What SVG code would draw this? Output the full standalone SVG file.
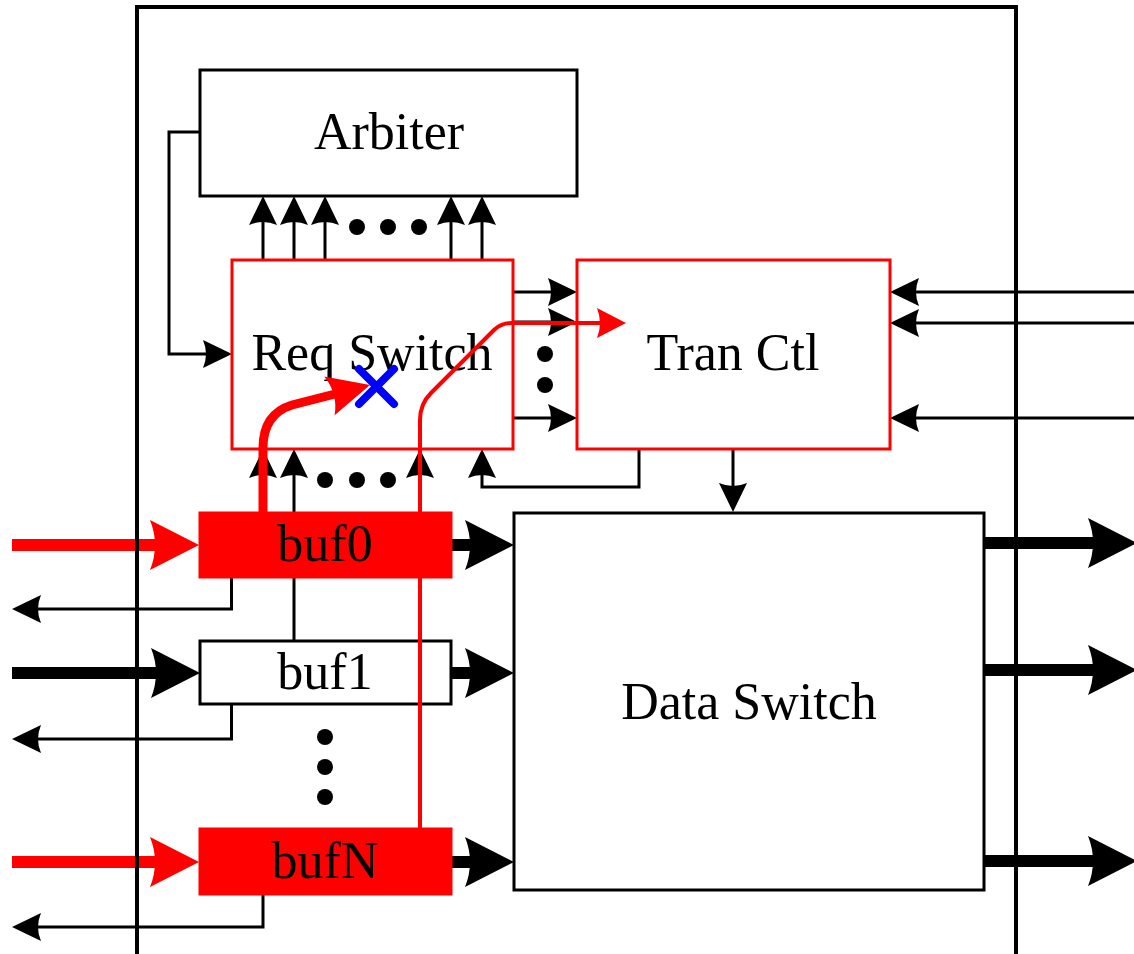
<svg xmlns="http://www.w3.org/2000/svg" width="1134" height="954" viewBox="0 0 1134 954">
<style>
.box{fill:#fff;stroke:#000;stroke-width:3}
.rbox{fill:#fff;stroke:#f00;stroke-width:3}
.rfill{fill:#f00;stroke:#f00;stroke-width:1}
.ln{fill:none;stroke:#000;stroke-width:3}
.thk{fill:none;stroke:#000;stroke-width:12}
.rthk{fill:none;stroke:#f00;stroke-width:12}
.lbl{font-family:"Liberation Serif","Times New Roman",serif;font-size:52px;text-anchor:middle;fill:#000}
.dot{fill:#000}
</style>
<defs>
<path id="a" d="M0,0 L-29,-14 Q-23,0 -29,14 Z"/>
<path id="A" d="M0,0 L-49,-25 Q-39,0 -49,25 Z"/>
<path id="R" d="M0,0 L-42,-20 Q-33,0 -42,20 Z"/>
</defs>

<g id="connectors">
  <!-- Arbiter feedback to Req Switch -->
  <path class="ln" d="M200,132 H169 V354 H206"/>
  <use href="#a" transform="translate(232,354)"/>
  <!-- Req Switch to Arbiter -->
  <path class="ln" d="M263,260 V220 M294,260 V220 M325,260 V220 M451,260 V220 M482,260 V220"/>
  <use href="#a" transform="translate(263,196) rotate(-90)"/>
  <use href="#a" transform="translate(294,196) rotate(-90)"/>
  <use href="#a" transform="translate(325,196) rotate(-90)"/>
  <use href="#a" transform="translate(451,196) rotate(-90)"/>
  <use href="#a" transform="translate(482,196) rotate(-90)"/>
  <!-- Req Switch to Tran Ctl -->
  <path class="ln" d="M513,292 H552 M513,322 H552 M513,418 H552"/>
  <use href="#a" transform="translate(577,292)"/>
  <use href="#a" transform="translate(577,322)"/>
  <use href="#a" transform="translate(577,418)"/>
  <!-- External into Tran Ctl -->
  <path class="ln" d="M1134,292 H915 M1134,323 H915 M1134,418 H915"/>
  <use href="#a" transform="translate(890,292) rotate(180)"/>
  <use href="#a" transform="translate(890,323) rotate(180)"/>
  <use href="#a" transform="translate(890,418) rotate(180)"/>
  <!-- Tran Ctl feedback to Req Switch -->
  <path class="ln" d="M639,449 V487 H482 V474"/>
  <use href="#a" transform="translate(482,449) rotate(-90)"/>
  <!-- Tran Ctl to Data Switch -->
  <path class="ln" d="M733,449 V488"/>
  <use href="#a" transform="translate(733,512) rotate(90)"/>
  <!-- bufs up to Req Switch -->
  <use href="#a" transform="translate(263,449) rotate(-90)"/>
  <path class="ln" d="M294,641 V474"/>
  <use href="#a" transform="translate(294,449) rotate(-90)"/>
  <use href="#a" transform="translate(420,449) rotate(-90)"/>
  <!-- credit returns -->
  <path class="ln" d="M231.5,578 V609 H36"/>
  <use href="#a" transform="translate(12,609) rotate(180)"/>
  <path class="ln" d="M231.5,704 V739 H36"/>
  <use href="#a" transform="translate(12,739) rotate(180)"/>
  <path class="ln" d="M263,895 V927 H36"/>
  <use href="#a" transform="translate(12,927) rotate(180)"/>
  <!-- inputs -->
  <path class="rthk" d="M12,545 H158"/>
  <use href="#A" fill="#f00" transform="translate(199,545)"/>
  <path class="thk" d="M12,673 H158"/>
  <use href="#A" transform="translate(200,673)"/>
  <path class="rthk" d="M12,862 H158"/>
  <use href="#A" fill="#f00" transform="translate(199,862)"/>
  <!-- buf to Data Switch -->
  <path class="thk" d="M452,545 H472 M452,673 H472 M452,862 H472"/>
  <use href="#A" transform="translate(514,545)"/>
  <use href="#A" transform="translate(514,673)"/>
  <use href="#A" transform="translate(514,862)"/>
  <!-- Data Switch outputs -->
  <path class="thk" d="M983,543 H1100 M983,670 H1100 M983,861 H1100"/>
  <use href="#A" transform="translate(1137,543)"/>
  <use href="#A" transform="translate(1137,670)"/>
  <use href="#A" transform="translate(1137,861)"/>
</g>

<g id="arbiter">
  <rect class="box" x="200" y="70" width="377" height="126"/>
  <text class="lbl" x="389" y="149">Arbiter</text>
</g>
<g id="req-switch">
  <rect class="rbox" x="232" y="260" width="281" height="189"/>
  <text class="lbl" x="372" y="370">Req Switch</text>
</g>
<g id="tran-ctl">
  <rect class="rbox" x="577" y="260" width="313" height="189"/>
  <text class="lbl" x="733" y="370">Tran Ctl</text>
</g>
<g id="data-switch">
  <rect class="box" x="514" y="513" width="470" height="377"/>
  <text class="lbl" x="749" y="719">Data Switch</text>
</g>
<g id="buf0">
  <rect class="rfill" x="199" y="512" width="253" height="66"/>
  <text class="lbl" x="325" y="561">buf0</text>
</g>
<g id="buf1">
  <rect class="box" x="200" y="641" width="251" height="63"/>
  <text class="lbl" x="325" y="689">buf1</text>
</g>
<g id="bufN">
  <rect class="rfill" x="199" y="828" width="253" height="67"/>
  <text class="lbl" x="325" y="878">bufN</text>
</g>

<g id="dots">
  <circle class="dot" cx="357" cy="227" r="8"/>
  <circle class="dot" cx="388" cy="227" r="8"/>
  <circle class="dot" cx="419" cy="227" r="8"/>
  <circle class="dot" cx="325" cy="480" r="8"/>
  <circle class="dot" cx="357" cy="480" r="8"/>
  <circle class="dot" cx="388" cy="480" r="8"/>
  <circle class="dot" cx="545" cy="354" r="8"/>
  <circle class="dot" cx="545" cy="385" r="8"/>
  <circle class="dot" cx="325" cy="737" r="8"/>
  <circle class="dot" cx="325" cy="767" r="8"/>
  <circle class="dot" cx="325" cy="797" r="8"/>
</g>

<g id="red-paths">
  <path fill="none" stroke="#f00" stroke-width="4" d="M420,828 V420 Q420,404 431,393 L494,330 Q501,323 512,323 H600"/>
  <use href="#a" fill="#f00" transform="translate(626,323) scale(1,1.07)"/>
  <path fill="none" stroke="#f00" stroke-width="9" d="M263,512 V448 Q263,414 292,405 L335,394"/>
  <use href="#R" fill="#f00" transform="translate(370,385) rotate(-15)"/>
</g>

<g id="blocked" stroke="#00f" stroke-width="8" stroke-linecap="round">
  <line x1="359" y1="369" x2="394" y2="404"/>
  <line x1="394" y1="369" x2="359" y2="404"/>
</g>

<g id="frame">
  <rect x="137" y="7" width="879" height="960" fill="none" stroke="#000" stroke-width="4"/>
</g>
</svg>
